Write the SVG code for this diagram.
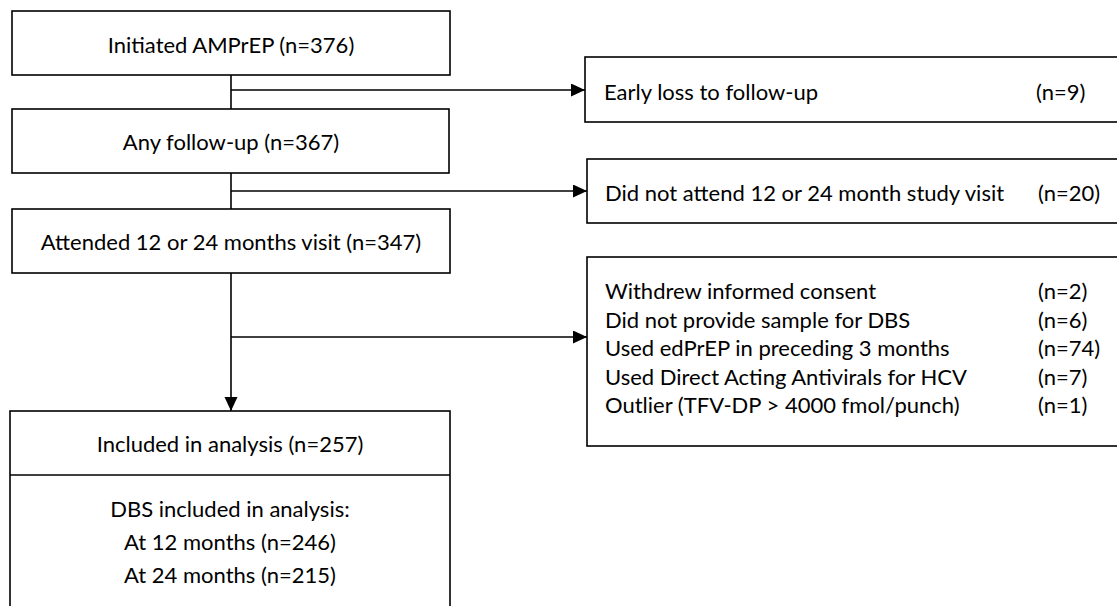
<svg xmlns="http://www.w3.org/2000/svg" width="1117" height="606" viewBox="0 0 1117 606">
<style>
.box{fill:#fff;stroke:#000;stroke-width:1.6}
.ln{fill:none;stroke:#000;stroke-width:1.6}
text{font-family:Lato,"Liberation Sans",sans-serif;font-size:22px;fill:#000}
.c{text-anchor:middle}
</style>
<defs>
<marker id="ah" markerUnits="userSpaceOnUse" markerWidth="16" markerHeight="14" refX="14" refY="6.5" orient="auto">
<path d="M0,0 L14,6.5 L0,13 Z" fill="#000"/>
</marker>
</defs>
<rect width="1117" height="606" fill="#fff"/>
<g id="connectors">
<line class="ln" x1="231" y1="75" x2="231" y2="109"/>
<line class="ln" x1="231" y1="90" x2="585" y2="90" marker-end="url(#ah)"/>
<line class="ln" x1="231" y1="173" x2="231" y2="209"/>
<line class="ln" x1="231" y1="191" x2="587" y2="191" marker-end="url(#ah)"/>
<line class="ln" x1="231" y1="273" x2="231" y2="411" marker-end="url(#ah)"/>
<line class="ln" x1="231" y1="337" x2="587" y2="337" marker-end="url(#ah)"/>
</g>
<g id="n1">
<rect class="box" x="12" y="11" width="438" height="64"/>
<text class="c" x="231" y="53">Initiated AMPrEP (n=376)</text>
</g>
<g id="n2">
<rect class="box" x="12" y="109" width="437" height="64"/>
<text class="c" x="231" y="150">Any follow-up (n=367)</text>
</g>
<g id="n3">
<rect class="box" x="12" y="209" width="438" height="64"/>
<text class="c" x="231" y="250">Attended 12 or 24 months visit (n=347)</text>
</g>
<g id="n4">
<rect class="box" x="10" y="411" width="440" height="240"/>
<line class="ln" x1="10" y1="475" x2="450" y2="475"/>
<text class="c" x="230" y="452">Included in analysis (n=257)</text>
<text class="c" x="230" y="517">DBS included in analysis:</text>
<text class="c" x="230" y="550">At 12 months (n=246)</text>
<text class="c" x="230" y="583">At 24 months (n=215)</text>
</g>
<g id="e1">
<rect class="box" x="585" y="57" width="545" height="65"/>
<text x="604" y="100">Early loss to follow-up</text>
<text x="1036" y="100">(n=9)</text>
</g>
<g id="e2">
<rect class="box" x="587" y="159" width="545" height="64"/>
<text x="605" y="201">Did not attend 12 or 24 month study visit</text>
<text x="1038" y="201">(n=20)</text>
</g>
<g id="e3">
<rect class="box" x="587" y="257" width="545" height="189"/>
<text x="605" y="299">Withdrew informed consent</text>
<text x="1038" y="299">(n=2)</text>
<text x="605" y="327.5">Did not provide sample for DBS</text>
<text x="1038" y="327.5">(n=6)</text>
<text x="605" y="356">Used edPrEP in preceding 3 months</text>
<text x="1038" y="356">(n=74)</text>
<text x="605" y="384.5">Used Direct Acting Antivirals for HCV</text>
<text x="1038" y="384.5">(n=7)</text>
<text x="605" y="413">Outlier (TFV-DP &gt; 4000 fmol/punch)</text>
<text x="1038" y="413">(n=1)</text>
</g>
</svg>
